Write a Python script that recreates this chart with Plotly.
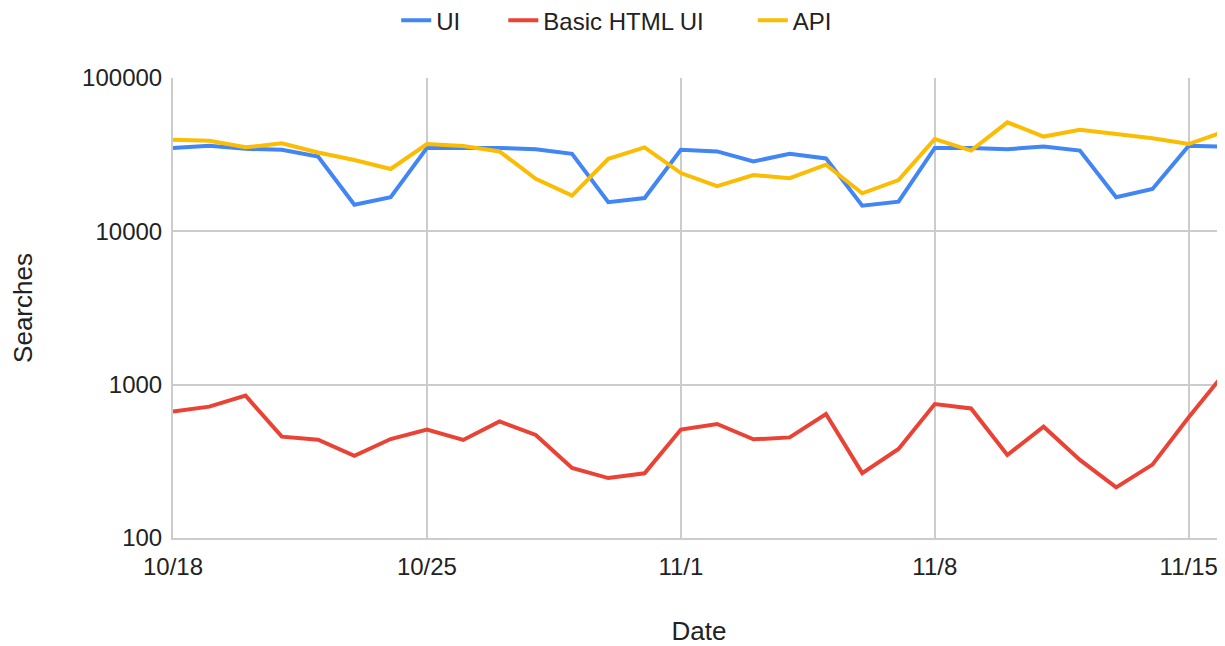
import plotly.graph_objects as go

dates = [
    "2020-10-18", "2020-10-19", "2020-10-20", "2020-10-21", "2020-10-22",
    "2020-10-23", "2020-10-24", "2020-10-25", "2020-10-26", "2020-10-27",
    "2020-10-28", "2020-10-29", "2020-10-30", "2020-10-31", "2020-11-01",
    "2020-11-02", "2020-11-03", "2020-11-04", "2020-11-05", "2020-11-06",
    "2020-11-07", "2020-11-08", "2020-11-09", "2020-11-10", "2020-11-11",
    "2020-11-12", "2020-11-13", "2020-11-14", "2020-11-15", "2020-11-16",
]

ui = [
    35000, 36200, 34500, 34000, 30700, 14900, 16700, 35000, 35000, 35000,
    34300, 32000, 15500, 16500, 34000, 33200, 28600, 32000, 29900, 14700,
    15600, 35000, 35000, 34300, 35700, 33600, 16700, 18900, 36200, 35700,
]

basic_html_ui = [
    667, 719, 848, 458, 438, 344, 442, 509, 436, 576,
    470, 286, 246, 264, 510, 554, 440, 453, 644, 265,
    381, 748, 700, 348, 532, 323, 214, 301, 612, 1200,
]

api = [
    39600, 39000, 35300, 37500, 32700, 29200, 25500, 37100, 36000, 33200,
    22000, 17100, 29700, 35300, 24000, 19700, 23300, 22200, 27200, 17700,
    21600, 40000, 33600, 51400, 41500, 46000, 43200, 40400, 37100, 44900,
]

y_ticks = [100, 1000, 10000, 100000]
y_tick_labels = ["100", "1000", "10000", "100000"]

# name, values, colour, legend id, legend x (container fraction)
series = [
    ("UI", ui, "#4285F4", "legend", 0.319),
    ("Basic HTML UI", basic_html_ui, "#EA4335", "legend2", 0.407),
    ("API", api, "#FBBC04", "legend3", 0.612),
]

font_family = "Liberation Sans, Arial, sans-serif"

fig = go.Figure()
legends = {}
for name, values, color, legend_id, legend_x in series:
    fig.add_trace(
        go.Scatter(
            x=dates,
            y=values,
            mode="lines",
            name=name,
            legend=legend_id,
            line=dict(color=color, width=4),
        )
    )
    legends[legend_id] = dict(
        orientation="h",
        xref="container",
        yref="container",
        x=legend_x,
        xanchor="left",
        y=0.98,
        yanchor="middle",
        font=dict(size=24),
        itemwidth=30,
        bgcolor="rgba(0,0,0,0)",
    )

# the page body has an 8px margin, so the figure is sized/offset to match
fig.update_layout(
    width=1217,
    height=638,
    margin=dict(l=165, r=0, t=70, b=105),
    paper_bgcolor="white",
    plot_bgcolor="white",
    font=dict(family=font_family, size=24, color="#222222"),
    showlegend=True,
    xaxis=dict(
        type="date",
        range=[dates[0], dates[-1]],
        tick0=dates[0],
        dtick=7 * 24 * 3600 * 1000,
        tickformat="%-m/%-d",
        showgrid=True,
        gridcolor="#cccccc",
        gridwidth=2,
        showline=True,
        linecolor="#cccccc",
        linewidth=2,
        zeroline=False,
        ticks="",
        ticklabelstandoff=6,
        title=dict(text="Date", standoff=48, font=dict(size=26)),
    ),
    yaxis=dict(
        type="log",
        range=[2, 5],
        tickvals=y_ticks,
        ticktext=y_tick_labels,
        showgrid=True,
        gridcolor="#cccccc",
        gridwidth=2,
        showline=True,
        linecolor="#cccccc",
        linewidth=2,
        zeroline=False,
        ticks="",
        ticklabelstandoff=4,
        title=dict(text="Searches", standoff=44, font=dict(size=26)),
    ),
    **legends,
)

fig.write_html("out.html")
